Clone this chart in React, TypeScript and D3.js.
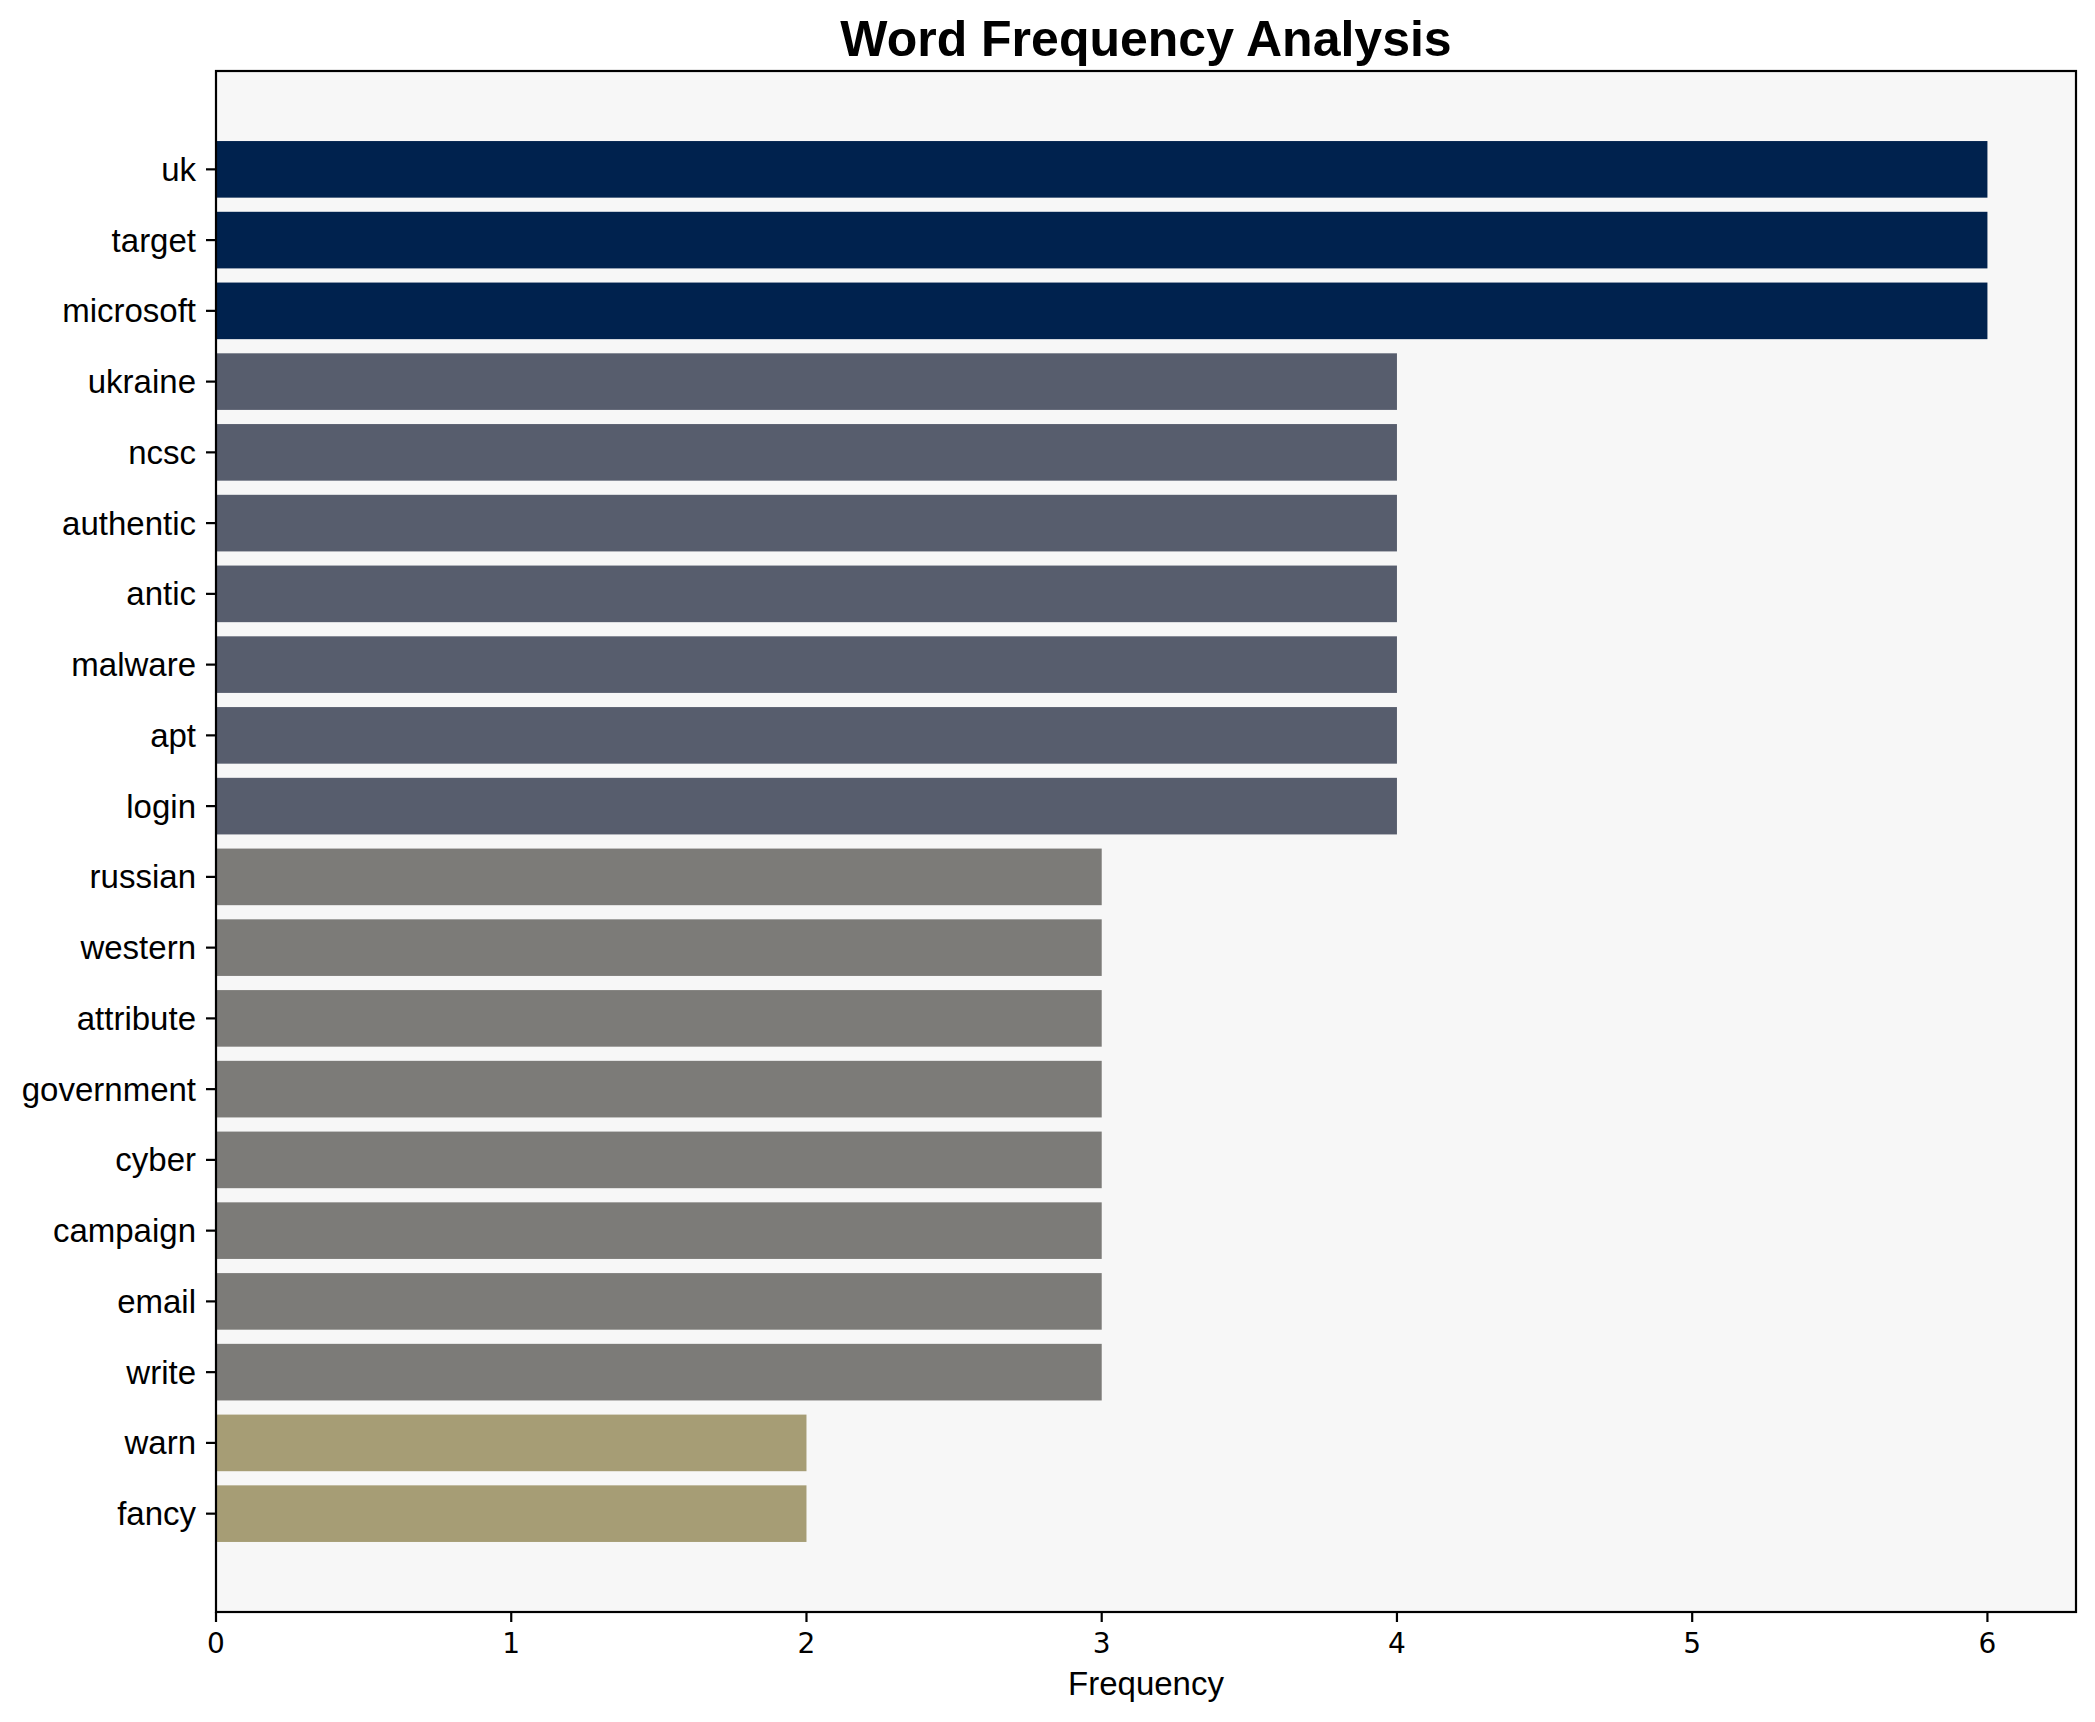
import * as d3 from 'd3';

const WIDTH = 2095;
const HEIGHT = 1722;
const PLOT = { left: 216, right: 2076, top: 71, bottom: 1612 };

const words = [
  'uk', 'target', 'microsoft', 'ukraine', 'ncsc', 'authentic', 'antic', 'malware', 'apt', 'login',
  'russian', 'western', 'attribute', 'government', 'cyber', 'campaign', 'email', 'write', 'warn', 'fancy',
];
const counts = [6, 6, 6, 4, 4, 4, 4, 4, 4, 4, 3, 3, 3, 3, 3, 3, 3, 3, 2, 2];
const xTicks = [0, 1, 2, 3, 4, 5, 6];
const colorLevels = [6, 4, 3, 2];
const colorValues = ['#00224e', '#575d6d', '#7c7b78', '#a69d75'];

const FONT = '"Liberation Sans", Arial, Helvetica, sans-serif';
const TICK_FONT = '"DejaVu Sans", sans-serif';

export default function App() {
  const maxVal = d3.max(counts) ?? 6;
  // matplotlib-style 5% margins
  const x = d3.scaleLinear().domain([0, maxVal * 1.05]).range([PLOT.left, PLOT.right]);
  const n = words.length;
  const span = n - 1 + 0.8;
  const y = d3
    .scaleLinear()
    .domain([-0.4 - span * 0.05, n - 1 + 0.4 + span * 0.05])
    .range([PLOT.top, PLOT.bottom]);
  const color = d3.scaleOrdinal<number, string>().domain(colorLevels).range(colorValues);

  const midX = (PLOT.left + PLOT.right) / 2;

  return (
    <svg
      width={WIDTH}
      height={HEIGHT}
      viewBox={`0 0 ${WIDTH} ${HEIGHT}`}
      style={{ position: 'absolute', left: 0, top: 0, background: '#fff' }}
      fontFamily={FONT}
    >
      <rect x={0} y={0} width={WIDTH} height={HEIGHT} fill="#fff" />
      {/* axes background */}
      <rect
        x={PLOT.left}
        y={PLOT.top}
        width={PLOT.right - PLOT.left}
        height={PLOT.bottom - PLOT.top}
        fill="#f7f7f7"
      />

      {/* bars */}
      {words.map((w, i) => (
        <rect
          key={w}
          x={x(0)}
          y={y(i - 0.4)}
          width={x(counts[i]) - x(0)}
          height={y(i + 0.4) - y(i - 0.4)}
          fill={color(counts[i])}
        />
      ))}

      {/* y ticks + labels */}
      {words.map((w, i) => (
        <g key={w}>
          <line x1={PLOT.left - 10} x2={PLOT.left} y1={y(i)} y2={y(i)} stroke="#000" strokeWidth={2.2} />
          <text x={PLOT.left - 20} y={y(i)} dy="0.35em" textAnchor="end" fontSize={33} fill="#000">
            {w}
          </text>
        </g>
      ))}

      {/* x ticks + labels */}
      {xTicks.map((t) => (
        <g key={t}>
          <line x1={x(t)} x2={x(t)} y1={PLOT.bottom} y2={PLOT.bottom + 10} stroke="#000" strokeWidth={2.2} />
          <text x={x(t)} y={1653} textAnchor="middle" fontSize={28} fontFamily={TICK_FONT} fill="#000">
            {t}
          </text>
        </g>
      ))}

      {/* frame */}
      <rect
        x={PLOT.left}
        y={PLOT.top}
        width={PLOT.right - PLOT.left}
        height={PLOT.bottom - PLOT.top}
        fill="none"
        stroke="#000"
        strokeWidth={2.2}
      />

      <text x={midX} y={1695} textAnchor="middle" fontSize={33} fill="#000">
        Frequency
      </text>
      <text x={midX} y={56} textAnchor="middle" fontSize={50} fontWeight="bold" fill="#000">
        Word Frequency Analysis
      </text>
    </svg>
  );
}
